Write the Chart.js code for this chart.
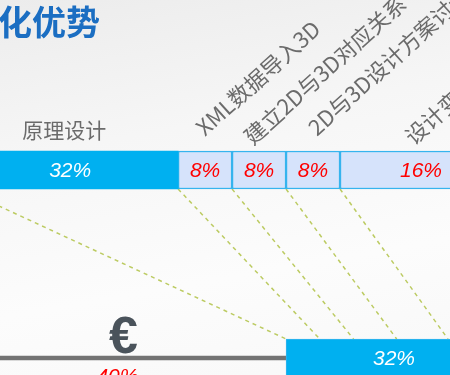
<!DOCTYPE html>
<html>
<head>
<meta charset="utf-8">
<script src="https://cdn.jsdelivr.net/npm/chart.js@4"></script>
<style>
  html, body { margin: 0; padding: 0; }
  body {
    width: 450px; height: 375px; overflow: hidden;
    background: linear-gradient(170deg, #ececec 0%, #f6f6f6 35%, #fcfcfc 70%, #f8f8f8 100%);
  }
  #wrap { position: relative; width: 450px; height: 375px; }
</style>
</head>
<body>
<div id="wrap"><canvas id="myChart" width="450" height="375"></canvas></div>
<script>
// stages of the design process (top row)
const stages = ["原理设计", "XML数据导入3D", "建立2D与3D对应关系", "2D与3D设计方案讨论", "设计变更管理"];
const stageShares = ["32%", "8%", "8%", "8%", "16%"];
const stageStart = [0, 32, 40, 48, 56];
const stageEnd = [32, 40, 48, 56, 80];

// cost row (bottom)
const oldCost = [-2, 48];
const oldCostLabel = "40%";
const newCost = [48, 80];
const newCostLabel = "32%";

// where the dashed links land on the new cost bar
const linkTo = [48, 53, 58, 64.4, 72];

const rows = ["stages", "cost"];

const BLUE = "#00b0f0";
const LIGHT = "#d6e3fb";
const EDGE = "#36b4ee";

const datasets = stageStart.map((s, i) => ({
  label: stages[i],
  data: [[s, stageEnd[i]], null],
  backgroundColor: i === 0 ? BLUE : LIGHT,
  borderColor: EDGE,
  borderWidth: i === 0 ? 0 : 1.5,
  borderSkipped: false,
  barThickness: 38,
  clip: false,
}));
datasets.push({
  label: "new",
  data: [null, newCost],
  backgroundColor: BLUE,
  borderColor: EDGE,
  borderWidth: 1,
  borderSkipped: false,
  barThickness: 38,
  clip: false,
});
datasets.push({
  label: "old",
  data: [null, oldCost],
  backgroundColor: "#737373",
  borderWidth: 0,
  barThickness: 4,
  clip: false,
});

const decor = {
  id: "decor",
  beforeDatasetsDraw(chart) {
    const ctx = chart.ctx;
    const x = chart.scales.x, y = chart.scales.y;
    const topBottom = y.getPixelForValue(0) + 19;
    const botTop = y.getPixelForValue(1) - 19;
    ctx.save();
    ctx.strokeStyle = "#bccb62";
    ctx.lineWidth = 1.5;
    ctx.setLineDash([4, 4]);
    stageStart.forEach((s, i) => {
      ctx.beginPath();
      ctx.moveTo(x.getPixelForValue(s), topBottom);
      ctx.lineTo(x.getPixelForValue(linkTo[i]), botTop);
      ctx.stroke();
    });
    ctx.restore();
  },
  afterDatasetsDraw(chart) {
    const ctx = chart.ctx;
    const x = chart.scales.x, y = chart.scales.y;
    const yTop = y.getPixelForValue(0);
    const yBot = y.getPixelForValue(1);
    ctx.save();
    ctx.textAlign = "center";
    ctx.textBaseline = "middle";
    ctx.font = "italic 21px 'Liberation Sans', Arial, sans-serif";
    stageStart.forEach((s, i) => {
      ctx.fillStyle = i === 0 ? "#ffffff" : "#ff0000";
      ctx.fillText(stageShares[i], x.getPixelForValue((s + stageEnd[i]) / 2), yTop + 1);
    });
    ctx.fillStyle = "#ffffff";
    ctx.fillText(newCostLabel, x.getPixelForValue((newCost[0] + newCost[1]) / 2), yBot + 1);
    const oldMid = x.getPixelForValue((oldCost[0] + oldCost[1]) / 2);
    ctx.fillStyle = "#ff0000";
    ctx.textBaseline = "alphabetic";
    ctx.fillText(oldCostLabel, oldMid, yBot + 25);

    // euro sign above the old cost line
    ctx.fillStyle = "#4a535b";
    ctx.font = "bold 52px 'Liberation Sans', Arial, sans-serif";
    ctx.fillText("€", oldMid + 6, yBot - 5);

    // stage names
    ctx.fillStyle = "#6b6b6b";
    ctx.font = "21px 'Noto Sans CJK SC', sans-serif";
    ctx.fillText(stages[0], x.getPixelForValue((stageStart[0] + stageEnd[0]) / 2) - 6, yTop - 32);
    ctx.font = "22px 'Noto Sans CJK SC', sans-serif";
    const dx = [0, 0, -6, 4, -7];
    const dy = [0, -33, -24, -33, -24];
    ctx.textAlign = "left";
    for (let i = 1; i < stages.length; i++) {
      const cx = x.getPixelForValue((stageStart[i] + stageEnd[i]) / 2);
      ctx.save();
      ctx.translate(cx + dx[i], yTop + dy[i]);
      ctx.rotate(-42 * Math.PI / 180);
      ctx.fillText(stages[i], 0, 0);
      ctx.restore();
    }

    // slide title fragment
    ctx.fillStyle = "#1b6ec2";
    ctx.font = "bold 34px 'Noto Sans CJK SC', sans-serif";
    ctx.fillText("化优势", -2, 35);
    ctx.restore();
  },
};

const ctx = document.getElementById("myChart").getContext("2d");
new Chart(ctx, {
  type: "bar",
  data: { labels: rows, datasets: datasets },
  options: {
    indexAxis: "y",
    responsive: false,
    animation: false,
    layout: { padding: { top: 170, bottom: 17, left: 0, right: 0 } },
    datasets: { bar: { grouped: false } },
    plugins: { legend: { display: false }, tooltip: { enabled: false } },
    scales: {
      x: { type: "linear", min: 5.6, max: 72.3, display: false },
      y: { type: "category", offset: false, display: false },
    },
  },
  plugins: [decor],
});
</script>
</body>
</html>
